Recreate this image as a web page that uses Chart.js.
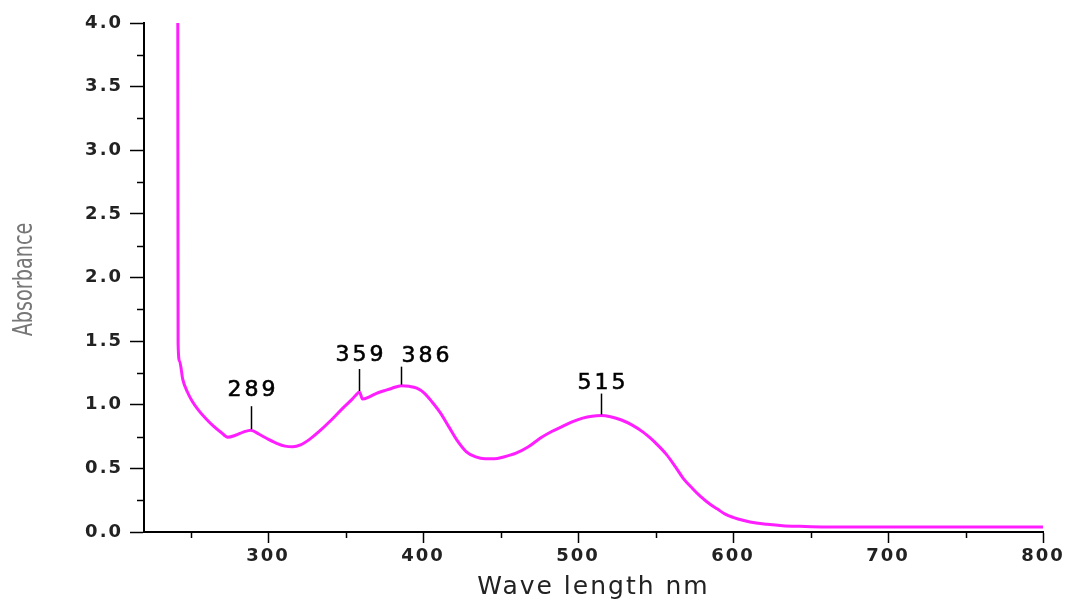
<!DOCTYPE html>
<html>
<head>
<meta charset="utf-8">
<title>Absorbance spectrum</title>
<script src="https://cdn.jsdelivr.net/npm/chart.js@4.4.1/dist/chart.umd.min.js"></script>
<style>
  html, body { margin: 0; padding: 0; background: #fff; }
  #wrap { width: 1068px; height: 602px; }
</style>
</head>
<body>
<div id="wrap"><canvas id="spectrum" width="1068" height="602"></canvas></div>
<script>
// UV-Vis spectrum, wavelength in nm vs absorbance
const wavelength = [241.8, 242, 243, 245, 248, 251, 255, 260, 265, 270, 274, 279, 284, 289, 294, 300,
  306, 311, 316, 321, 327, 333, 340, 348, 354, 357, 359, 361, 365, 370, 375, 380, 386, 391, 396, 401,
  406, 411, 417, 422, 428, 434, 440, 446, 452, 460, 468, 476, 483, 490, 497, 503, 509, 515, 521, 528,
  535, 542, 546, 550, 557, 563, 568, 574, 579, 585, 590, 595, 600, 607, 615, 622, 632, 643, 660, 700,
  750, 800];
const absorbance = [4.0, 1.48, 1.34, 1.2, 1.10, 1.03, 0.96, 0.89, 0.83, 0.78, 0.745, 0.76, 0.785, 0.80, 0.77, 0.73,
  0.695, 0.675, 0.67, 0.685, 0.73, 0.79, 0.87, 0.97, 1.04, 1.08, 1.10, 1.045, 1.06, 1.09, 1.11, 1.13, 1.15, 1.145, 1.13, 1.09,
  1.02, 0.94, 0.82, 0.72, 0.63, 0.59, 0.575, 0.575, 0.59, 0.62, 0.67, 0.74, 0.79, 0.83, 0.87, 0.895, 0.91, 0.915, 0.905, 0.88,
  0.84, 0.785, 0.745, 0.70, 0.61, 0.51, 0.42, 0.34, 0.28, 0.22, 0.18, 0.14, 0.115, 0.09, 0.07, 0.06, 0.05, 0.045, 0.04, 0.04,
  0.04, 0.04];
const peakWavelengths = [289, 359, 386, 515];
const xTicks = [300, 400, 500, 600, 700, 800];
const yTicks = [0, 0.5, 1.0, 1.5, 2.0, 2.5, 3.0, 3.5, 4.0];
const xMinorTicks = [250, 350, 450, 550, 650, 750];
const yMinorTicks = [0.25, 0.75, 1.25, 1.75, 2.25, 2.75, 3.25, 3.75];

const FONT = "'DejaVu Sans', Verdana, sans-serif";

// marker line + number above each peak
const peakStyle = [
  { len: 23, gap: 10, align: 'center' },
  { len: 22, gap: 8, align: 'center' },
  { len: 18, gap: 5, align: 'left' },
  { len: 21, gap: 5, align: 'center' }
];

const decorations = {
  id: 'decorations',
  beforeDraw(chart) {
    chart.ctx.letterSpacing = '2px';
  },
  afterDraw(chart) {
    const ctx = chart.ctx;
    const xs = chart.scales.x, ys = chart.scales.y;
    const area = chart.chartArea;
    ctx.save();
    ctx.strokeStyle = '#000';
    ctx.lineWidth = 1.5;

    // minor ticks
    yMinorTicks.forEach(v => {
      const y = Math.round(ys.getPixelForValue(v)) + 0.5;
      ctx.beginPath();
      ctx.moveTo(area.left - 7, y);
      ctx.lineTo(area.left, y);
      ctx.stroke();
    });
    xMinorTicks.forEach(v => {
      const x = Math.round(xs.getPixelForValue(v)) + 0.5;
      ctx.beginPath();
      ctx.moveTo(x, area.bottom);
      ctx.lineTo(x, area.bottom + 6);
      ctx.stroke();
    });

    // peak markers
    ctx.font = '22px ' + FONT;
    ctx.fillStyle = '#000';
    ctx.textBaseline = 'alphabetic';
    ctx.letterSpacing = '3px';
    peakWavelengths.forEach((p, i) => {
      const idx = wavelength.indexOf(p);
      const x = Math.round(xs.getPixelForValue(p)) + 0.5;
      const yCurve = ys.getPixelForValue(absorbance[idx]) - 1;
      const st = peakStyle[i];
      ctx.beginPath();
      ctx.moveTo(x, yCurve);
      ctx.lineTo(x, yCurve - st.len);
      ctx.stroke();
      ctx.textAlign = st.align;
      const tx = st.align === 'left' ? x : x + 1.5;
      ctx.fillText(String(p), tx, yCurve - st.len - st.gap);
      ctx.lineWidth = 0.6;
      ctx.strokeText(String(p), tx, yCurve - st.len - st.gap);
      ctx.lineWidth = 1.5;
    });

    // y axis title, narrow and grey
    ctx.letterSpacing = '0px';
    ctx.translate(25, (area.top + area.bottom) / 2 + 2);
    ctx.rotate(-Math.PI / 2);
    ctx.scale(0.74, 1);
    ctx.font = '26px ' + FONT;
    ctx.fillStyle = '#777';
    ctx.textAlign = 'center';
    ctx.textBaseline = 'middle';
    ctx.fillText('Absorbance', 0, 0);
    ctx.restore();
  }
};

new Chart(document.getElementById('spectrum'), {
  type: 'line',
  data: {
    datasets: [{
      data: wavelength.map((w, i) => ({ x: w, y: absorbance[i] })),
      borderColor: '#ff1eff',
      borderWidth: 3,
      pointRadius: 0,
      cubicInterpolationMode: 'monotone',
      fill: false
    }]
  },
  options: {
    responsive: false,
    animation: false,
    layout: { padding: { top: 23, right: 25, left: 0, bottom: 0 } },
    plugins: {
      legend: { display: false },
      tooltip: { enabled: false }
    },
    scales: {
      x: {
        type: 'linear',
        min: 220,
        max: 800,
        afterBuildTicks: scale => { scale.ticks = xTicks.map(v => ({ value: v })); },
        afterFit: scale => { scale.height = 70; },
        border: { display: true, color: '#000', width: 2 },
        grid: { drawOnChartArea: false, drawTicks: true, tickLength: 11, color: '#000', tickWidth: 1.5 },
        ticks: {
          color: '#222',
          padding: 3,
          maxRotation: 0,
          font: { family: FONT, size: 18, weight: 'bold' }
        },
        title: {
          display: true,
          text: 'Wave length nm',
          color: '#222',
          padding: { top: 3, bottom: 0 },
          font: { family: FONT, size: 25 }
        }
      },
      y: {
        min: 0,
        max: 4,
        afterBuildTicks: scale => { scale.ticks = yTicks.map(v => ({ value: v })); },
        afterFit: scale => { scale.width = 144; },
        border: { display: true, color: '#000', width: 2 },
        grid: { drawOnChartArea: false, drawTicks: true, tickLength: 14, color: '#000', tickWidth: 1.5 },
        ticks: {
          color: '#222',
          padding: 7,
          font: { family: FONT, size: 18, weight: 'bold' },
          callback: v => v.toFixed(1)
        }
      }
    }
  },
  plugins: [decorations]
});
</script>
</body>
</html>
